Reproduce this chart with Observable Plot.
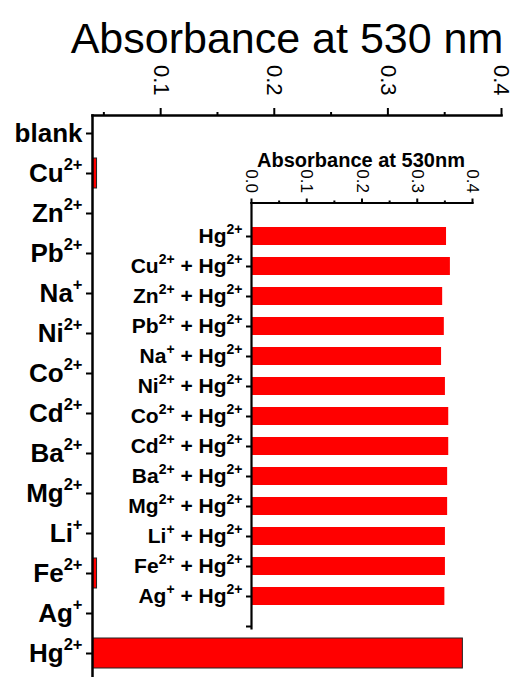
<!DOCTYPE html>
<html>
<head>
<meta charset="utf-8">
<script src="https://cdn.jsdelivr.net/npm/d3@7"></script>
<script src="https://cdn.jsdelivr.net/npm/@observablehq/plot@0.6"></script>
<style>
  html, body { margin: 0; padding: 0; overflow: hidden; background: white; }
  #wrap { position: relative; width: 513px; height: 677px; }
  #wrap svg { position: absolute; top: 0; left: 0; }
</style>
</head>
<body>
<div id="wrap"></div>
<script>
// ---- data ----
const mainTitle = "Absorbance at 530 nm";
const insetTitle = "Absorbance at 530nm";
const ions = ["blank", "Cu^2+", "Zn^2+", "Pb^2+", "Na^+", "Ni^2+", "Co^2+", "Cd^2+", "Ba^2+", "Mg^2+", "Li^+", "Fe^2+", "Ag^+", "Hg^2+"];
const ionValues = [0.030, 0.044, 0.034, 0.037, 0.031, 0.035, 0.032, 0.034, 0.031, 0.035, 0.030, 0.044, 0.033, 0.366];
const mixes = ["Hg^2+", "Cu^2+ + Hg^2+", "Zn^2+ + Hg^2+", "Pb^2+ + Hg^2+", "Na^+ + Hg^2+", "Ni^2+ + Hg^2+", "Co^2+ + Hg^2+", "Cd^2+ + Hg^2+", "Ba^2+ + Hg^2+", "Mg^2+ + Hg^2+", "Li^+ + Hg^2+", "Fe^2+ + Hg^2+", "Ag^+ + Hg^2+"];
const mixValues = [0.353, 0.360, 0.346, 0.349, 0.344, 0.351, 0.357, 0.357, 0.355, 0.355, 0.351, 0.351, 0.350];
const mainTicks = [0.1, 0.2, 0.3, 0.4];
const mainMinor = [0.05, 0.15, 0.25, 0.35];
const insetTicks = [0.0, 0.1, 0.2, 0.3, 0.4];
const insetMinor = [0.05, 0.15, 0.25, 0.35];

const mainData = ions.map((ion, i) => ({ion, value: ionValues[i]}));
const mixData = mixes.map((m, i) => ({mix: m, value: mixValues[i]}));
const FONT = "Liberation Sans, Arial, sans-serif";

// ---- main chart ----
const main = Plot.plot({
  width: 513, height: 677,
  marginLeft: 92, marginRight: 12, marginTop: 115, marginBottom: 0,
  style: {fontFamily: FONT, background: "white", color: "black"},
  x: {domain: [0.04, 0.4]},
  y: {domain: ions, range: [112.2, 673.3], paddingInner: 0.25, paddingOuter: 0, align: 0.5},
  marks: [
    Plot.barX(mainData, {x: "value", y: "ion", fill: "#ff0000", stroke: "#222", strokeWidth: 1, clip: true}),
    Plot.frame({anchor: "top", strokeWidth: 2.5}),
    Plot.frame({anchor: "left", strokeWidth: 2.5}),
    Plot.axisX({anchor: "top", ticks: mainTicks, tickSize: 8, tickPadding: 12, tickRotate: 90, textAnchor: "end",
      fontSize: 22, strokeWidth: 2, tickFormat: d3.format(".1f"), label: null}),
    Plot.axisX({anchor: "top", ticks: mainMinor, tickSize: 4, strokeWidth: 2, text: null, label: null}),
    Plot.axisY({anchor: "left", tickSize: 6, tickPadding: 4, fontSize: 26, fontWeight: "bold", strokeWidth: 2, label: null}),
    Plot.text([mainTitle], {text: d => d, frameAnchor: "top", dx: -10, dy: -93, fontSize: 43})
  ]
});

// ---- inset chart ----
const insetDomain = [...mixes, ""];
const inset = Plot.plot({
  width: 513, height: 677,
  marginLeft: 251, marginRight: 41, marginTop: 202.5, marginBottom: 49,
  style: {fontFamily: FONT, background: "transparent", color: "black"},
  x: {domain: [0, 0.4]},
  y: {domain: insetDomain, range: [224.4, 637.2], paddingInner: 0.4, paddingOuter: 0, align: 0.5},
  marks: [
    Plot.barX(mixData, {x: "value", y: "mix", fill: "#ff0000"}),
    Plot.frame({anchor: "top", strokeWidth: 2.2}),
    Plot.frame({anchor: "left", strokeWidth: 2.2}),
    Plot.axisX({anchor: "top", ticks: insetTicks, tickSize: 5, tickPadding: 5, tickRotate: 90, textAnchor: "end",
      fontSize: 17, strokeWidth: 2, tickFormat: d3.format(".1f"), label: null}),
    Plot.axisX({anchor: "top", ticks: insetMinor, tickSize: 3, strokeWidth: 2, text: null, label: null}),
    Plot.axisY({anchor: "left", tickSize: 5, tickPadding: 4, fontSize: 21, fontWeight: "bold", strokeWidth: 2, label: null}),
    Plot.text([insetTitle], {text: d => d, frameAnchor: "top", dx: -1, dy: -50, fontSize: 20, fontWeight: "bold"})
  ]
});

function supify(svg, supSize, raise) {
  d3.select(svg).selectAll('g[aria-label="y-axis tick label"] text').each(function() {
    const s = this.textContent;
    if (!s.includes("^")) return;
    const parts = s.split(/\^([0-9]*[+-])/);
    const t = d3.select(this);
    t.text(null);
    let raised = false;
    parts.forEach((p, i) => {
      if (!p) return;
      const ts = t.append("tspan").text(p);
      if (i % 2 === 1) { ts.attr("font-size", supSize).attr("dy", -raise); raised = true; }
      else if (raised) { ts.attr("dy", raise); raised = false; }
    });
  });
}
supify(main, 16.5, 11.5);
supify(inset, 14, 9);

const wrap = document.getElementById("wrap");
wrap.appendChild(main);
wrap.appendChild(inset);
</script>
</body>
</html>
